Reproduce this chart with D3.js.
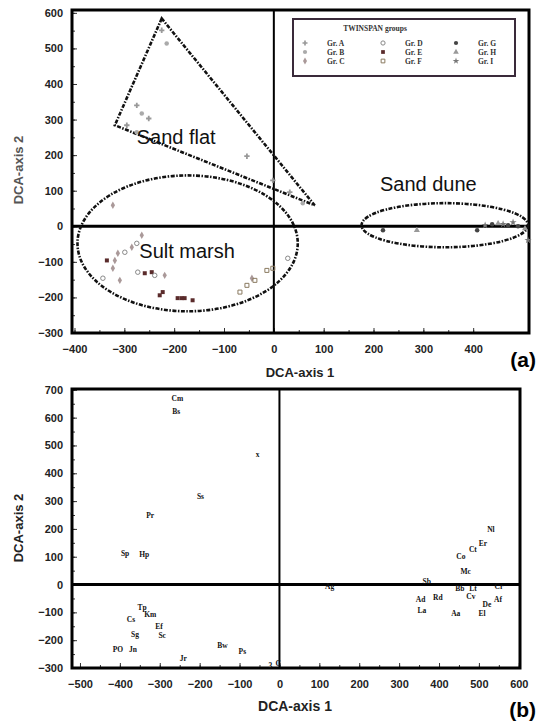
<!DOCTYPE html>
<html>
<head>
<meta charset="utf-8">
<script src="https://cdn.jsdelivr.net/npm/d3@7"></script>
<style>
  body { margin: 0; background: #fff; }
  svg { display: block; font-family: "Liberation Sans", Arial, sans-serif; }
  .tick text { font-weight: bold; font-size: 11px; fill: #222; }
  .tick line { stroke: #333; }
  .domain { display: none; }
</style>
</head>
<body>
<svg width="536" height="725"></svg>
<script>
// ---- panel (a): site scores, TWINSPAN groups ----
var groupNames = ['Gr. A', 'Gr. B', 'Gr. C', 'Gr. D', 'Gr. E', 'Gr. F', 'Gr. G', 'Gr. H', 'Gr. I'];

var siteX = [-225, -215, -275, -265, -251, -295, -275, -54, -2, 32, 58,
  -323, -265, -275, -285, -299, -313, -335, -319, -323, -343, -309, -273, -259, -245, -239, -219,
  -223, -229, -193, -185, -179, -163, -68, -54, -44, -38, -14, -2, 28,
  219, 287, 408, 424, 438, 450, 460, 470, 480, 490, 504, 510];
var siteY = [551, 514, 340, 317, 303, 284, 264, 197, 129, 96, 65,
  59, -25, -48, -59, -73, -76, -96, -96, -118, -146, -152, -129, -132, -129, -138, -138,
  -185, -194, -202, -202, -202, -208, -185, -166, -146, -152, -124, -118, -90,
  -11, -11, -11, 3, 6, 8, 6, 3, 11, 0, -6, -39];
var siteGroup = ['A', 'B', 'A', 'B', 'A', 'A', 'B', 'A', 'A', 'A', 'B',
  'C', 'C', 'D', 'C', 'D', 'C', 'E', 'C', 'C', 'D', 'C', 'D', 'E', 'E', 'D', 'C',
  'E', 'E', 'E', 'E', 'E', 'E', 'F', 'F', 'C', 'F', 'F', 'F', 'D',
  'G', 'H', 'G', 'I', 'G', 'H', 'I', 'G', 'I', 'G', 'H', 'I'];

// hand drawn outlines, in axis units
var sandFlat = [[-225, 584], [-319, 284], [82, 59]];
var marshEllipse = [-173, -48, 221, 191]; // cx, cy, rx, ry
var duneEllipse = [343, 3, 167, 62];

var ticksA_x = [-400, -300, -200, -100, 0, 100, 200, 300, 400];
var ticksA_y = [-300, -200, -100, 0, 100, 200, 300, 400, 500, 600];

// ---- panel (b): species scores ----
var spCode = ['Cm', 'Bs', 'x', 'Ss', 'Pr', 'Sp', 'Hp', 'Tp', 'Km', 'Cs', 'Ef', 'Sg', 'Sc', 'PO', 'Jn', 'Jr', 'Bw', 'Ps', '3', 'C',
  'Nl', 'Er', 'Ct', 'Co', 'Mc', 'Sb', 'Ag', 'Bb', 'Lt', 'Cr', 'Cv', 'Ad', 'Rd', 'Af', 'De', 'La', 'Aa', 'El'];
var spX = [-256, -259, -55, -198, -324, -387, -339, -344, -324, -372, -302, -362, -294, -405, -367, -241, -143, -93, -23, -3,
  530, 510, 485, 455, 467, 369, 126, 452, 485, 550, 480, 354, 397, 548, 520, 357, 442, 508];
var spY = [669, 622, 468, 317, 248, 112, 108, -83, -108, -126, -151, -180, -183, -234, -234, -266, -219, -241, -290, -285,
  198, 147, 126, 101, 47, 11, -7, -14, -14, -7, -43, -54, -47, -54, -70, -94, -104, -104];

var ticksB_x = [-500, -400, -300, -200, -100, 0, 100, 200, 300, 400, 500, 600];
var ticksB_y = [-300, -200, -100, 0, 100, 200, 300, 400, 500, 600, 700];

var svg = d3.select('svg');

var xa = d3.scaleLinear().domain([-405, 512]).range([72, 529]);
var ya = d3.scaleLinear().domain([-300, 608]).range([333, 10]);
var xb = d3.scaleLinear().domain([-520, 603]).range([72, 520]);
var yb = d3.scaleLinear().domain([-300, 703]).range([668, 389]);

function drawAxes(x, y, tx, ty) {
  var g = svg.append('g');
  var x0 = x.range()[0], x1 = x.range()[1], y0 = y.range()[0], y1 = y.range()[1];
  // minor ticks
  g.append('g').attr('transform', 'translate(0,' + y0 + ')')
    .call(d3.axisBottom(x).tickValues(d3.range(tx[0], tx[tx.length - 1] + 1, 50)).tickSize(-3).tickFormat(''));
  g.append('g').attr('transform', 'translate(' + x0 + ',0)')
    .call(d3.axisLeft(y).tickValues(d3.range(ty[0], ty[ty.length - 1] + 1, 50)).tickSize(-3).tickFormat(''));
  // major ticks + labels
  g.append('g').attr('transform', 'translate(0,' + y0 + ')')
    .call(d3.axisBottom(x).tickValues(tx).tickSize(-5).tickPadding(12));
  g.append('g').attr('transform', 'translate(' + x0 + ',0)')
    .call(d3.axisLeft(y).tickValues(ty).tickSize(-5).tickPadding(9));
  // zero lines
  g.append('line').attr('x1', x0).attr('x2', x1).attr('y1', y(0)).attr('y2', y(0))
    .attr('stroke', '#000').attr('stroke-width', 3);
  g.append('line').attr('x1', x(0)).attr('x2', x(0)).attr('y1', y0).attr('y2', y1)
    .attr('stroke', '#000').attr('stroke-width', 2);
  // frame
  g.append('rect').attr('x', x0).attr('y', y1).attr('width', x1 - x0).attr('height', y0 - y1)
    .attr('fill', 'none').attr('stroke', '#000').attr('stroke-width', 3);
}

drawAxes(xa, ya, ticksA_x, ticksA_y);
drawAxes(xb, yb, ticksB_x, ticksB_y);

// ---- panel (a) marks ----
var symType = d3.scaleOrdinal().domain(['A', 'B', 'C', 'D', 'E', 'F', 'G', 'H', 'I'])
  .range([d3.symbolCross, d3.symbolCircle, d3.symbolDiamond, d3.symbolCircle, d3.symbolSquare,
    d3.symbolSquare, d3.symbolCircle, d3.symbolTriangle, d3.symbolStar]);
var symFill = d3.scaleOrdinal().domain(['A', 'B', 'C', 'D', 'E', 'F', 'G', 'H', 'I'])
  .range(['#999', '#aaa', '#a99', 'none', '#5a2b2b', 'none', '#444', '#999', '#777']);
var symStroke = d3.scaleOrdinal().domain(['A', 'B', 'C', 'D', 'E', 'F', 'G', 'H', 'I'])
  .range(['none', 'none', 'none', '#888', 'none', '#8a7a60', 'none', 'none', 'none']);

var outline = svg.append('g').attr('fill', 'none').attr('stroke', '#111')
  .attr('stroke-width', 2.6).attr('stroke-dasharray', '4,1.5,1.5,1.5');

outline.append('path')
  .attr('d', d3.line().x(function (d) { return xa(d[0]); }).y(function (d) { return ya(d[1]); })
    .curve(d3.curveLinearClosed)(sandFlat));

[marshEllipse, duneEllipse].forEach(function (e) {
  outline.append('ellipse')
    .attr('cx', xa(e[0])).attr('cy', ya(e[1]))
    .attr('rx', xa(e[0] + e[2]) - xa(e[0])).attr('ry', ya(e[1]) - ya(e[1] + e[3]));
});

svg.append('g').selectAll('path.site')
  .data(d3.range(siteX.length))
  .enter()
  .append('path')
  .attr('class', 'site')
  .attr('transform', function (i) { return 'translate(' + xa(siteX[i]) + ',' + ya(siteY[i]) + ')'; })
  .attr('d', function (i) { return d3.symbol().type(symType(siteGroup[i])).size(16)(); })
  .attr('fill', function (i) { return symFill(siteGroup[i]); })
  .attr('stroke', function (i) { return symStroke(siteGroup[i]); })
  .attr('stroke-width', 1);

var habitat = svg.append('g').attr('font-size', 20).attr('fill', '#111');
habitat.append('text').attr('x', xa(-196)).attr('y', ya(250)).attr('text-anchor', 'middle')
  .attr('dy', '0.35em').text('Sand flat');
habitat.append('text').attr('x', xa(-174)).attr('y', ya(-70)).attr('text-anchor', 'middle')
  .attr('dy', '0.35em').text('Sult marsh');
habitat.append('text').attr('x', xa(310)).attr('y', ya(120)).attr('text-anchor', 'middle')
  .attr('dy', '0.35em').text('Sand dune');

// legend
var leg = svg.append('g').attr('font-family', '"Liberation Serif", serif').attr('font-weight', 'bold')
  .attr('font-size', 7.5).attr('fill', '#333');
leg.append('rect').attr('x', 293).attr('y', 19).attr('width', 222).attr('height', 57)
  .attr('fill', '#fff').attr('stroke', '#3a2a3a').attr('stroke-width', 2);
leg.append('text').attr('x', 375).attr('y', 31).attr('text-anchor', 'middle').text('TWINSPAN groups');
var legCols = [305, 383, 456];
var legRows = [43, 52, 61];
groupNames.forEach(function (name, i) {
  var key = 'ABCDEFGHI'[i];
  var cx = legCols[Math.floor(i / 3)], cy = legRows[i % 3];
  leg.append('path').attr('transform', 'translate(' + cx + ',' + cy + ')')
    .attr('d', d3.symbol().type(symType(key)).size(14)())
    .attr('fill', symFill(key)).attr('stroke', symStroke(key));
  leg.append('text').attr('x', cx + 22).attr('y', cy).attr('dy', '0.35em').text(name);
});

// ---- panel (b) marks ----
svg.append('g').selectAll('text.sp')
  .data(d3.range(spCode.length))
  .enter()
  .append('text')
  .attr('class', 'sp')
  .attr('x', function (i) { return xb(spX[i]); })
  .attr('y', function (i) { return yb(spY[i]); })
  .attr('text-anchor', 'middle')
  .attr('dy', '0.35em')
  .attr('font-family', '"Liberation Serif", serif')
  .attr('font-weight', 'bold')
  .attr('font-size', 7.5)
  .attr('fill', '#111')
  .text(function (i) { return spCode[i]; });

// ---- titles ----
var titles = svg.append('g').attr('font-weight', 'bold').attr('fill', '#222');
titles.append('text').attr('x', 300).attr('y', 372).attr('text-anchor', 'middle').attr('dy', '0.35em')
  .attr('font-size', 13).text('DCA-axis 1');
titles.append('text').attr('transform', 'translate(18,170) rotate(-90)').attr('text-anchor', 'middle')
  .attr('dy', '0.35em').attr('font-size', 13).attr('fill', '#555').text('DCA-axis 2');
titles.append('text').attr('x', 295).attr('y', 706).attr('text-anchor', 'middle').attr('dy', '0.35em')
  .attr('font-size', 14).text('DCA-axis 1');
titles.append('text').attr('transform', 'translate(18,528) rotate(-90)').attr('text-anchor', 'middle')
  .attr('dy', '0.35em').attr('font-size', 13).text('DCA-axis 2');
titles.append('text').attr('x', 536).attr('y', 360).attr('text-anchor', 'end').attr('dy', '0.35em')
  .attr('font-size', 21).attr('fill', '#000').text('(a)');
titles.append('text').attr('x', 536).attr('y', 710).attr('text-anchor', 'end').attr('dy', '0.35em')
  .attr('font-size', 21).attr('fill', '#000').text('(b)');
</script>
</body>
</html>
